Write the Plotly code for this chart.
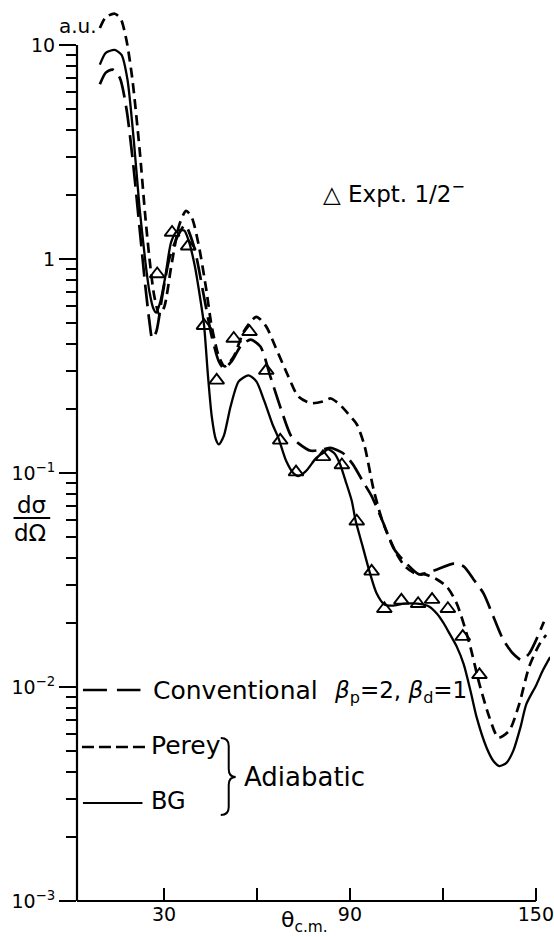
import plotly.graph_objects as go

# ---------------- data ----------------
theta_perey = [9.3, 11.2, 14.1, 16.0, 17.9, 19.8, 22.1, 24.0, 25.6, 26.9, 28.5, 30.1, 32.3, 34.9, 37.1,
               39.0, 41.3, 43.5, 45.4, 47.7, 49.6, 52.5, 55.7, 59.8, 63.0, 65.9, 70.1, 73.3, 77.4, 81.3,
               83.8, 86.7, 89.3, 92.2, 94.7, 97.6, 100.5, 105.0, 107.8, 111.7, 114.2, 118.1, 121.3, 124.5,
               128.6, 131.8, 135.0, 137.9, 141.4, 144.6, 147.8, 151.0, 153.3]
xs_perey = [12.0, 13.5, 14.0, 13.3, 10.5, 6.90, 3.28, 1.56, 0.918, 0.666, 0.549, 0.598, 0.918, 1.44, 1.68,
            1.56, 1.14, 0.741, 0.483, 0.350, 0.315, 0.350, 0.457, 0.537, 0.483, 0.390, 0.283, 0.228, 0.212, 0.216,
            0.223, 0.209, 0.190, 0.169, 0.134, 0.0841, 0.0596, 0.0421, 0.0366, 0.0336, 0.0336, 0.0318, 0.0294, 0.0245,
            0.0159, 0.0103, 0.00721, 0.00580, 0.00625, 0.00830, 0.0124, 0.0157, 0.0175]

theta_conv = [9.3, 11.2, 13.4, 15.7, 17.9, 20.2, 22.1, 24.0, 25.3, 26.2, 27.5, 29.4, 31.7, 34.2, 36.8,
              39.7, 42.9, 45.4, 47.7, 49.3, 51.8, 54.7, 57.9, 61.1, 64.3, 67.8, 71.0, 73.3, 77.4, 81.3,
              83.8, 87.7, 90.9, 94.1, 97.0, 100.5, 104.3, 108.5, 112.3, 114.2, 118.1, 123.5, 126.7, 129.9,
              133.1, 136.3, 139.5, 142.7, 145.3, 147.8, 150.1, 152.6]
xs_conv = [6.55, 7.43, 7.67, 7.04, 5.01, 2.65, 1.40, 0.741, 0.509, 0.425, 0.457, 0.666, 1.0, 1.26, 1.44,
           1.14, 0.666, 0.434, 0.332, 0.308, 0.332, 0.390, 0.420, 0.390, 0.283, 0.198, 0.149, 0.138, 0.127, 0.129,
           0.131, 0.124, 0.110, 0.0917, 0.0780, 0.0596, 0.0440, 0.0374, 0.0336, 0.0340, 0.0354, 0.0377, 0.0366, 0.0318,
           0.0274, 0.0213, 0.0166, 0.0143, 0.0134, 0.0143, 0.0166, 0.0202]

theta_bg = [9.3, 11.2, 14.1, 16.3, 18.2, 20.2, 22.1, 24.0, 25.3, 26.6, 27.5, 28.8, 30.4, 32.3, 34.2,
            36.5, 38.1, 40.0, 41.6, 42.9, 44.2, 45.4, 46.7, 47.7, 49.3, 51.5, 54.1, 57.3, 59.8, 62.4,
            65.0, 66.9, 69.4, 71.7, 73.3, 75.8, 79.0, 81.3, 82.9, 85.1, 86.7, 88.6, 90.6, 91.8, 94.1,
            96.3, 98.6, 101.1, 103.7, 107.5, 111.7, 115.5, 118.1, 120.3, 122.2, 124.5, 126.7, 129.0, 130.9,
            134.1, 136.3, 138.2, 140.5, 142.7, 145.0, 146.9, 150.1, 152.3, 154.6]
xs_bg = [8.09, 9.19, 9.48, 8.99, 6.90, 3.65, 1.74, 0.968, 0.703, 0.585, 0.561, 0.631, 0.824, 1.20, 1.35,
         1.36, 1.20, 0.918, 0.666, 0.493, 0.283, 0.184, 0.144, 0.136, 0.149, 0.205, 0.268, 0.286, 0.268, 0.216,
         0.169, 0.146, 0.114, 0.100, 0.0968, 0.102, 0.117, 0.124, 0.129, 0.123, 0.111, 0.0917, 0.0740, 0.0601, 0.0454,
         0.0347, 0.0274, 0.0243, 0.0240, 0.0245, 0.0245, 0.0238, 0.0220, 0.0198, 0.0177, 0.0154, 0.0128, 0.00947, 0.00721,
         0.00520, 0.00451, 0.00427, 0.00442, 0.00503, 0.00646, 0.00830, 0.0102, 0.0120, 0.0138]

theta_expt = [27.8, 32.6, 37.8, 42.9, 47.0, 52.5, 57.6, 63.0, 67.5, 72.6, 81.3, 87.4, 92.2, 97.0,
              101.1, 106.6, 112.0, 116.5, 121.6, 126.4, 131.8]
xs_expt = [0.851, 1.33, 1.148, 0.488, 0.271, 0.425, 0.457, 0.301, 0.142, 0.101, 0.119, 0.109, 0.0595, 0.0347,
           0.0232, 0.0254, 0.0245, 0.0256, 0.0232, 0.0172, 0.0114]

x_tickvals = [30, 60, 90, 120, 150]
x_ticktext = ["30", "", "90", "", "150"]
y_tickvals = [0.001, 0.01, 0.1, 1, 10]
y_ticktext = ["10<sup>\u22123</sup>", "10<sup>\u22122</sup>", "10<sup>\u22121</sup>", "1", "10"]
y_minor_mantissas = [2, 3, 4, 5, 6, 7, 8, 9]
y_minor_decades = [0.001, 0.01, 0.1, 1]

# ---------------- layout geometry ----------------
W, H = 554, 937
ML, MR, MT, MB = 77, 0, 0, 36
PW, PH = W - ML - MR, H - MT - MB
X_RANGE = [1.92, 154.56]
Y_RANGE = [-3, 1.2103]
FONT = "DejaVu Sans"
INK = "black"

y_minor_vals = [m * d for d in y_minor_decades for m in y_minor_mantissas]


def xp(px):
    return (px - ML) / PW


def yp(py):
    return (MT + PH - py) / PH


fig = go.Figure()
line_common = dict(color=INK, shape="spline", smoothing=0.7)
fig.add_trace(go.Scatter(x=theta_conv, y=xs_conv, mode="lines",
                         line=dict(width=2.7, dash="22px,8px", **line_common), name="Conventional"))
fig.add_trace(go.Scatter(x=theta_perey, y=xs_perey, mode="lines",
                         line=dict(width=2.7, dash="10px,6px", **line_common), name="Perey"))
fig.add_trace(go.Scatter(x=theta_bg, y=xs_bg, mode="lines",
                         line=dict(width=2.3, **line_common), name="BG"))
fig.add_trace(go.Scatter(x=theta_expt, y=xs_expt, mode="markers",
                         marker=dict(symbol="triangle-up-open", size=13, color=INK, line=dict(width=1.9, color=INK)),
                         name="Expt"))

shapes = [
    # axis lines
    dict(type="line", xref="paper", yref="y", x0=0, x1=0, y0=0.001, y1=10, line=dict(color=INK, width=2.2)),
    dict(type="line", xref="x", yref="paper", x0=X_RANGE[0], x1=150, y0=0, y1=0, line=dict(color=INK, width=2.2)),
    # legend samples
    dict(type="line", xref="paper", yref="paper", x0=xp(83), x1=xp(141), y0=yp(690), y1=yp(690),
         line=dict(color=INK, width=2.6, dash="24px,10px")),
    dict(type="line", xref="paper", yref="paper", x0=xp(82), x1=xp(147), y0=yp(747), y1=yp(747),
         line=dict(color=INK, width=2.6, dash="12px,5px")),
    dict(type="line", xref="paper", yref="paper", x0=xp(83), x1=xp(143), y0=yp(803), y1=yp(803),
         line=dict(color=INK, width=2.2)),
    # fraction bar of dσ/dΩ
    dict(type="line", xref="paper", yref="paper", x0=xp(13), x1=xp(50), y0=yp(518), y1=yp(518),
         line=dict(color=INK, width=2)),
]
# curly brace for "Adiabatic"
bp = [(222, 738), (230, 738), (230, 746), (230, 769), (230, 777), (237, 777), (230, 777), (230, 785),
      (230, 807), (230, 815), (222, 815)]
P = [(xp(a), yp(b)) for a, b in bp]
brace = (f"M {P[0][0]} {P[0][1]} Q {P[1][0]} {P[1][1]} {P[2][0]} {P[2][1]} L {P[3][0]} {P[3][1]} "
         f"Q {P[4][0]} {P[4][1]} {P[5][0]} {P[5][1]} Q {P[6][0]} {P[6][1]} {P[7][0]} {P[7][1]} "
         f"L {P[8][0]} {P[8][1]} Q {P[9][0]} {P[9][1]} {P[10][0]} {P[10][1]}")
shapes.append(dict(type="path", xref="paper", yref="paper", path=brace, line=dict(color=INK, width=2)))


def ann(text, px, py, size, xanchor="center"):
    return dict(text=text, x=xp(px), y=yp(py), xref="paper", yref="paper", showarrow=False,
                xanchor=xanchor, yanchor="middle", font=dict(family=FONT, size=size, color=INK))


beta = "<i>\u03b2</i>"
annotations = [
    ann("a.u.", 78, 26, 20),
    ann("d\u03c3", 31, 505, 23),
    ann("d\u03a9", 30, 533, 23),
    ann("\u25b3 Expt. 1/2<sup>\u2212</sup>", 323, 192, 23, "left"),
    ann("\u03b8<sub>c.m.</sub>", 306, 921, 22),
    ann("Conventional", 152, 690, 25, "left"),
    ann(f"{beta}<sub>p</sub>=2, {beta}<sub>d</sub>=1", 334, 692, 23, "left"),
    ann("Perey", 150, 745, 25, "left"),
    ann("BG", 150, 801, 24, "left"),
    ann("Adiabatic", 243, 777, 26, "left"),
]

fig.update_layout(
    width=W, height=H,
    margin=dict(l=ML, r=MR, t=MT, b=MB, pad=0),
    paper_bgcolor="white", plot_bgcolor="white",
    showlegend=False,
    font=dict(family=FONT, size=18, color=INK),
    shapes=shapes,
    annotations=annotations,
    xaxis=dict(range=X_RANGE, showgrid=False, zeroline=False, showline=False,
               tickmode="array", tickvals=x_tickvals, ticktext=x_ticktext,
               ticks="inside", ticklen=13, tickwidth=2, tickcolor=INK,
               ticklabeloverflow="allow",
               tickfont=dict(family=FONT, size=19, color=INK)),
    yaxis=dict(type="log", range=Y_RANGE, showgrid=False, zeroline=False, showline=False,
               tickmode="array", tickvals=y_tickvals, ticktext=y_ticktext,
               ticks="outside", ticklen=17, tickwidth=2, tickcolor=INK,
               ticklabeloverflow="allow",
               tickfont=dict(family=FONT, size=19, color=INK),
               minor=dict(tickmode="array", tickvals=y_minor_vals, ticks="outside", ticklen=10,
                          tickwidth=2, tickcolor=INK, showgrid=False)),
)

fig.write_html("out.html")
